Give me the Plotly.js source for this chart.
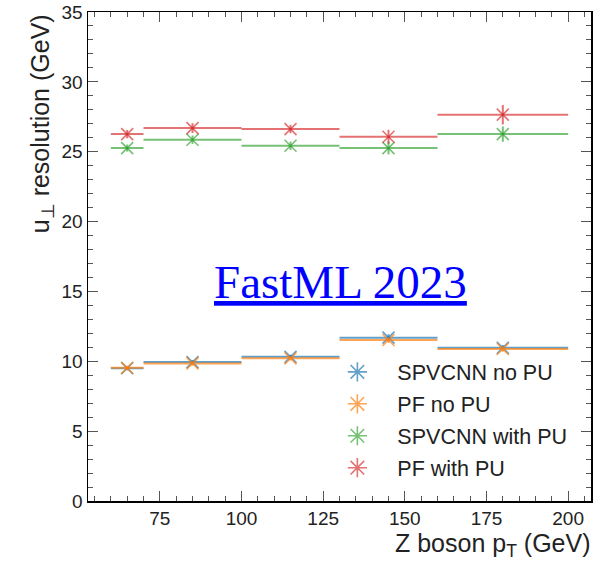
<!DOCTYPE html>
<html>
<head>
<meta charset="utf-8">
<script src="https://cdn.plot.ly/plotly-3.0.1.min.js"></script>
<style>html,body{margin:0;padding:0;background:#fff;}#chart{width:605px;height:562px;}</style>
</head>
<body>
<div id="chart"></div>
<script>
// Bins of Z boson pT (GeV)
const binCenters = [65, 85, 115, 145, 180];
const binHalfWidths = [5, 15, 15, 15, 20];

const seriesNames = ["SPVCNN no PU", "PF no PU", "SPVCNN with PU", "PF with PU"];
const spvcnnNoPU = [9.50, 9.94, 10.32, 11.69, 10.97];
const pfNoPU = [9.53, 9.85, 10.21, 11.52, 10.88];
const spvcnnWithPU = [25.26, 25.86, 25.43, 25.26, 26.26];
const pfWithPU = [26.26, 26.69, 26.62, 26.07, 27.65];

const spvcnnNoPUErr = [0.15, 0.15, 0.15, 0.25, 0.2];
const pfNoPUErr = [0.15, 0.15, 0.15, 0.2, 0.2];
const spvcnnWithPUErr = [0.25, 0.3, 0.3, 0.45, 0.55];
const pfWithPUErr = [0.3, 0.35, 0.3, 0.5, 0.7];

const colors = ["rgba(31,119,180,0.7)", "rgba(255,127,14,0.7)", "rgba(44,160,44,0.65)", "rgba(214,39,40,0.65)"];
const values = [spvcnnNoPU, pfNoPU, spvcnnWithPU, pfWithPU];
const errs = [spvcnnNoPUErr, pfNoPUErr, spvcnnWithPUErr, pfWithPUErr];

const font = "Liberation Sans, Arial, Helvetica, sans-serif";
const traces = [];
values.forEach((v, i) => {
  traces.push({
    type: "scatter", mode: "markers",
    x: binCenters, y: v,
    showlegend: false,
    marker: {symbol: "x-thin-open", size: 12, color: colors[i], line: {color: colors[i], width: 1.6}},
    error_x: {type: "data", array: binHalfWidths, visible: true, color: colors[i], thickness: 2, width: 0},
    error_y: {type: "data", array: errs[i], visible: true, color: colors[i], thickness: 2, width: 0},
    hoverinfo: "skip"
  });
});
seriesNames.forEach((n, i) => {
  traces.push({
    type: "scatter", mode: "markers", x: [null], y: [null], name: n,
    legendgroup: "g" + i,
    marker: {symbol: "asterisk-open", size: 16, color: colors[i], line: {color: colors[i], width: 1.6}}
  });
});

const layout = {
  width: 605, height: 562,
  margin: {l: 88, r: 14, t: 12, b: 61},
  paper_bgcolor: "#fff", plot_bgcolor: "#fff",
  font: {family: font, color: "#222", size: 19},
  showlegend: true,
  legend: {x: 0.456, xanchor: "left", y: 0.306, yanchor: "top", bgcolor: "rgba(0,0,0,0)",
           font: {family: font, size: 21.5, color: "#222"}, itemwidth: 70, tracegroupgap: 1, traceorder: "grouped"},
  xaxis: {range: [53, 207], showgrid: false, zeroline: false, showline: true, linecolor: "#000", linewidth: 1.5,
          mirror: "allticks", ticks: "inside", ticklen: 10, tickwidth: 1, tickcolor: "#555",
          tickvals: [75, 100, 125, 150, 175, 200], tickfont: {family: font, size: 19, color: "#222"},
          minor: {dtick: 5, tick0: 0, ticks: "inside", ticklen: 5, tickwidth: 1, tickcolor: "#555", showgrid: false}},
  yaxis: {range: [0, 35], showgrid: false, zeroline: false, showline: true, linecolor: "#000", linewidth: 1.5,
          mirror: "allticks", ticks: "inside", ticklen: 10, tickwidth: 1, tickcolor: "#555",
          dtick: 5, tick0: 0, tickfont: {family: font, size: 19, color: "#222"},
          minor: {dtick: 1, tick0: 0, ticks: "inside", ticklen: 5, tickwidth: 1, tickcolor: "#555", showgrid: false}},
  annotations: [
    {text: "u<sub>⊥</sub> resolution (GeV)", xref: "paper", yref: "paper", x: -0.092, y: 1, xanchor: "center", yanchor: "top",
     textangle: -90, showarrow: false, font: {family: font, size: 25, color: "#222"}},
    {text: "Z boson p<sub>T</sub> (GeV)", xref: "paper", yref: "paper", x: 1.003, y: -0.09, xanchor: "right", yanchor: "middle",
     showarrow: false, font: {family: font, size: 25, color: "#222"}},
    {text: "<u>FastML 2023</u>", xref: "paper", yref: "paper", x: 0.502, y: 0.448, xanchor: "center", yanchor: "middle",
     showarrow: false, font: {family: "Liberation Serif, Times New Roman, serif", size: 47, color: "#0000ff"}}
  ]
};

Plotly.newPlot("chart", traces, layout, {displayModeBar: false, staticPlot: true});
</script>
</body>
</html>
